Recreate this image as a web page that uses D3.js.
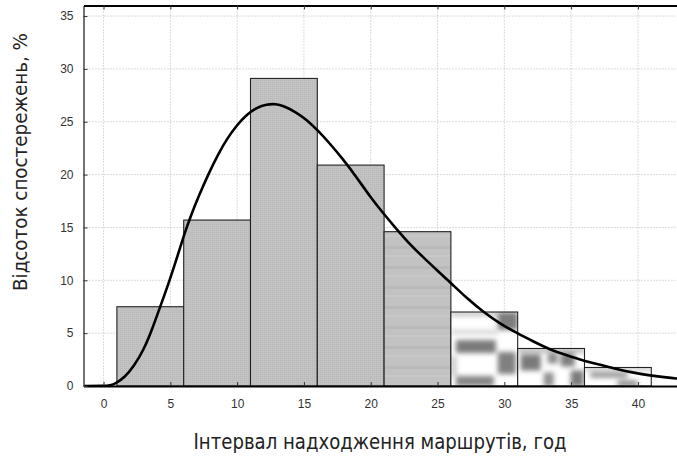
<!DOCTYPE html>
<html>
<head>
<meta charset="utf-8">
<script src="https://cdn.jsdelivr.net/npm/d3@7"></script>
<style>
  html, body { margin: 0; padding: 0; background: #fff; }
  svg { display: block; }
</style>
</head>
<body>
<svg id="chart" width="677" height="461"></svg>
<script>
// ---- data ----
const binStarts = [1, 6, 11, 16, 21, 26, 31, 36];
const binWidth = 5;
const percents = [7.5, 15.7, 29.1, 20.9, 14.6, 7.0, 3.55, 1.75];
const xTicks = [0, 5, 10, 15, 20, 25, 30, 35, 40];
const yTicks = [0, 5, 10, 15, 20, 25, 30, 35];
const curveX = [-1.5, 0, 0.5, 0.88, 1.63, 2.25, 3.0, 3.62, 4.24, 4.87, 5.49, 6.0, 6.5, 7.1, 7.86, 8.61, 9.24, 9.99, 10.73, 11.48, 12.2, 12.9, 13.47, 14.35, 15.2, 16.1, 16.97, 17.96, 18.97, 19.96, 20.96, 21.96, 23.0, 24.0, 25.0, 26.0, 27.2, 28.44, 29.69, 30.94, 32.19, 33.4, 34.7, 35.9, 37.2, 38.4, 39.7, 40.9, 42.2, 43.0];
const curveY = [0, 0, 0.05, 0.2, 0.88, 1.83, 3.4, 5.3, 7.5, 9.7, 12.1, 14.2, 16.0, 17.9, 20.1, 22.0, 23.4, 24.7, 25.7, 26.35, 26.65, 26.7, 26.5, 25.95, 25.2, 24.1, 22.9, 21.4, 19.7, 17.9, 16.3, 14.8, 13.3, 12.1, 10.9, 9.75, 8.3, 7.0, 5.9, 5.0, 4.2, 3.45, 2.9, 2.4, 2.0, 1.6, 1.25, 1.0, 0.8, 0.7];
const xTitle = "Інтервал надходження маршрутів, год";
const yTitle = "Відсоток спостережень, %";
const barPatterns = ["gray", "gray", "gray", "gray", "stripe", "blotA", "blotB", "blotC"];

// ---- layout ----
const svg = d3.select("#chart");
const pL = 83.5, pR = 678, pT = 5.5, pB = 386;
const x = d3.scaleLinear().domain([-1.5, 43]).range([pL, pR]);
const y = d3.scaleLinear().domain([0, 36]).range([pB, pT]);

// ---- patterns ----
const defs = svg.append("defs");
const blur = defs.append("filter").attr("id", "bl").attr("x", "-30%").attr("y", "-30%").attr("width", "160%").attr("height", "160%");
blur.append("feGaussianBlur").attr("stdDeviation", 2.4);

const pg = defs.append("pattern").attr("id", "gray").attr("patternUnits", "userSpaceOnUse").attr("width", 2).attr("height", 2);
pg.append("rect").attr("width", 2).attr("height", 2).attr("fill", "#c2c2c2");
pg.append("rect").attr("width", 1).attr("height", 1).attr("fill", "#b8b8b8");

const ps = defs.append("pattern").attr("id", "stripe").attr("patternUnits", "userSpaceOnUse").attr("width", 67).attr("height", 20).attr("x", x(21)).attr("y", 0);
ps.append("rect").attr("width", 67).attr("height", 20).attr("fill", "#c2c2c2");
ps.append("rect").attr("y", 6).attr("width", 67).attr("height", 3).attr("fill", "#b9b9b9");
ps.append("rect").attr("y", 15).attr("width", 67).attr("height", 2).attr("fill", "#c8c8c8");

function blot(id, i, blocks) {
  const w = x(binStarts[i] + binWidth) - x(binStarts[i]);
  const h = y(0) - y(percents[i]);
  const p = defs.append("pattern").attr("id", id).attr("patternUnits", "userSpaceOnUse")
    .attr("width", w).attr("height", h).attr("x", x(binStarts[i])).attr("y", y(percents[i]));
  p.append("rect").attr("width", w).attr("height", h).attr("fill", "#fff");
  const g = p.append("g").attr("filter", "url(#bl)");
  blocks.forEach(b => g.append("rect").attr("x", b[0]).attr("y", b[1]).attr("width", b[2]).attr("height", b[3]).attr("fill", b[4]));
}
blot("blotA", 5, [[0, 0, 67, 4, "#bbb"], [47, 0, 20, 18, "#7c7c7c"], [5, 28, 40, 13, "#7a7a7a"], [0, 18, 47, 4, "#d0d0d0"],
                  [47, 40, 18, 22, "#808080"], [5, 64, 38, 10, "#858585"], [0, 44, 6, 20, "#ccc"]]);
blot("blotB", 6, [[0, 0, 67, 4, "#aaa"], [3, 6, 20, 16, "#7a7a7a"], [30, 5, 10, 10, "#8a8a8a"], [26, 24, 10, 14, "#909090"],
                  [43, 5, 14, 13, "#7e7e7e"], [53, 22, 13, 16, "#7a7a7a"]]);
blot("blotC", 7, [[0, 0, 67, 3, "#bbb"], [6, 5, 37, 5, "#8e8e8e"], [33, 13, 20, 6, "#8a8a8a"]]);

// ---- grid ----
const grid = svg.append("g");
grid.selectAll(".gx").data(xTicks).join("line")
  .attr("x1", d => x(d)).attr("x2", d => x(d)).attr("y1", pT).attr("y2", pB)
  .attr("stroke", "#b8b8b8").attr("stroke-width", 1).attr("stroke-dasharray", "1,2");
grid.selectAll(".gy").data(yTicks.filter(d => d > 0)).join("line")
  .attr("x1", pL).attr("x2", pR).attr("y1", d => y(d)).attr("y2", d => y(d))
  .attr("stroke", "#b8b8b8").attr("stroke-width", 1).attr("stroke-dasharray", "1,2");

// ---- bars ----
svg.append("g").selectAll("rect").data(percents).join("rect")
  .attr("x", (d, i) => x(binStarts[i]))
  .attr("width", (d, i) => x(binStarts[i] + binWidth) - x(binStarts[i]))
  .attr("y", d => y(d))
  .attr("height", d => y(0) - y(d))
  .attr("fill", (d, i) => `url(#${barPatterns[i]})`)
  .attr("stroke", "#222").attr("stroke-width", 1.1);

// ---- curve ----
svg.append("clipPath").attr("id", "clip").append("rect")
  .attr("x", pL).attr("y", pT).attr("width", pR - pL).attr("height", pB - pT);
const pts = curveX.map((v, i) => [v, curveY[i]]);
svg.append("path").datum(pts)
  .attr("clip-path", "url(#clip)")
  .attr("fill", "none").attr("stroke", "#000").attr("stroke-width", 2.6)
  .attr("d", d3.line().x(d => x(d[0])).y(d => y(d[1])).curve(d3.curveBasis));

// ---- axes ----
const xAxis = svg.append("g").attr("transform", `translate(0,${pB})`)
  .call(d3.axisBottom(x).tickValues(xTicks).tickSizeInner(-4).tickSizeOuter(0).tickPadding(13));
const yAxis = svg.append("g").attr("transform", `translate(${pL},0)`)
  .call(d3.axisLeft(y).tickValues(yTicks).tickSizeInner(-4).tickSizeOuter(0).tickPadding(10));
const xTop = svg.append("g").attr("transform", `translate(0,${pT})`)
  .call(d3.axisTop(x).tickValues(xTicks).tickSizeInner(-4).tickSizeOuter(0).tickFormat(""));
[xAxis, yAxis, xTop].forEach(g => {
  g.selectAll("text").attr("font-family", "Liberation Sans, Arial, sans-serif").attr("font-size", 12).attr("fill", "#333");
  g.selectAll(".tick line").attr("stroke", "#333");
});
xAxis.select(".domain").attr("stroke", "#000").attr("stroke-width", 2.2);
yAxis.select(".domain").attr("stroke", "#444").attr("stroke-width", 1.5);
xTop.select(".domain").attr("stroke", "#000").attr("stroke-width", 1.8);

// ---- titles ----
svg.append("text").text(xTitle)
  .attr("x", 380).attr("y", 449).attr("text-anchor", "middle")
  .attr("font-family", "DejaVu Sans Condensed, DejaVu Sans, sans-serif").attr("font-stretch", "condensed")
  .attr("font-size", 22).attr("fill", "#222")
  .attr("textLength", 373).attr("lengthAdjust", "spacingAndGlyphs");
svg.append("text").text(yTitle)
  .attr("transform", "translate(27,162) rotate(-90)").attr("text-anchor", "middle")
  .attr("font-family", "DejaVu Sans Condensed, DejaVu Sans, sans-serif").attr("font-stretch", "condensed")
  .attr("font-size", 20).attr("fill", "#222")
  .attr("textLength", 258).attr("lengthAdjust", "spacingAndGlyphs");
</script>
</body>
</html>
